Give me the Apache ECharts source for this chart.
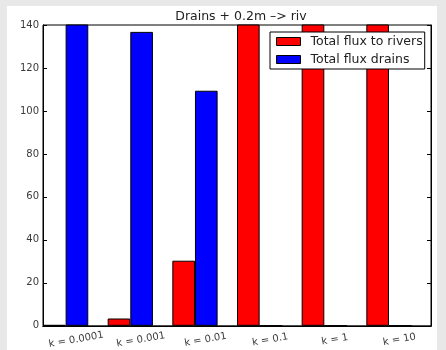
<!DOCTYPE html>
<html>
<head>
<meta charset="utf-8">
<script src="https://cdn.jsdelivr.net/npm/echarts@6/dist/echarts.min.js"></script>
<style>
  html, body { margin: 0; padding: 0; background: #e8e8e8; }
  #chart { width: 446px; height: 350px; }
</style>
</head>
<body>
<div id="chart"></div>
<script>
// Hydraulic conductivity cases
const categories = ['k = 0.0001', 'k = 0.001', 'k = 0.01', 'k = 0.1', 'k = 1', 'k = 10'];
// Total flux to rivers per case (last three run past the top of the axis)
const fluxRivers = [0.4, 3.4, 30.3, 158, 156, 160];
// Total flux to drains per case
const fluxDrains = [152, 136.8, 109.4, 0, 0, 0];
// Y axis range and step
const yMin = 0, yMax = 140, yStep = 20;

const font = 'DejaVu Sans, sans-serif';
const tickLabel = { fontFamily: font, fontSize: 10, color: '#3a3a3a' };

const chart = echarts.init(document.getElementById('chart'), null, { renderer: 'canvas' });
chart.setOption({
  animation: false,
  backgroundColor: '#e8e8e8',
  graphic: [{
    type: 'rect', z: -10, silent: true,
    shape: { x: 7, y: 6, width: 430, height: 344 },
    style: { fill: '#ffffff' }
  }],
  title: {
    text: 'Drains + 0.2m –> riv',
    left: 236, top: 5, textAlign: 'center',
    textStyle: { fontFamily: font, fontSize: 12.5, fontWeight: 'normal', color: '#222' }
  },
  legend: {
    data: ['Total flux to rivers', 'Total flux drains'],
    orient: 'vertical',
    left: 270, top: 32,
    padding: [3, 2, 3, 6],
    itemGap: 5,
    itemWidth: 24, itemHeight: 8,
    icon: 'rect',
    backgroundColor: '#fff',
    borderColor: '#000', borderWidth: 1,
    itemStyle: { borderColor: '#000', borderWidth: 1 },
    textStyle: { fontFamily: font, fontSize: 12.5, color: '#222', lineHeight: 13, padding: [0, 0, 0, 5] }
  },
  grid: {
    left: 43, right: 15, top: 25, bottom: 23,
    show: true, backgroundColor: '#fff', borderColor: '#000', borderWidth: 1
  },
  xAxis: [{
    type: 'category', data: categories, position: 'bottom',
    axisLine: { lineStyle: { color: '#000', width: 1 } },
    axisTick: { alignWithLabel: true, inside: true, length: 4, lineStyle: { color: '#000' } },
    axisLabel: Object.assign({ rotate: 10, margin: 9, align: 'center', verticalAlign: 'top', interval: 0 }, tickLabel),
    splitLine: { show: false }
  }, {
    type: 'category', data: categories, position: 'top',
    axisLine: { lineStyle: { color: '#000', width: 1 } },
    axisTick: { alignWithLabel: true, inside: true, length: 4, lineStyle: { color: '#000' } },
    axisLabel: { show: false },
    splitLine: { show: false }
  }],
  yAxis: [{
    type: 'value', min: yMin, max: yMax, interval: yStep, position: 'left',
    axisLine: { show: true, lineStyle: { color: '#000', width: 1 } },
    axisTick: { show: true, inside: true, length: 4, lineStyle: { color: '#000' } },
    axisLabel: Object.assign({ margin: 4 }, tickLabel),
    splitLine: { show: false }
  }, {
    type: 'value', min: yMin, max: yMax, interval: yStep, position: 'right',
    axisLine: { show: true, lineStyle: { color: '#000', width: 1 } },
    axisTick: { show: true, inside: true, length: 4, lineStyle: { color: '#000' } },
    axisLabel: { show: false },
    splitLine: { show: false }
  }],
  series: [{
    name: 'Total flux to rivers', type: 'bar', data: fluxRivers,
    barWidth: '35%', barGap: '0%', barCategoryGap: '0%',
    itemStyle: { color: '#ff0000', borderColor: '#000', borderWidth: 1 }
  }, {
    name: 'Total flux drains', type: 'bar', data: fluxDrains,
    barWidth: '35%', barGap: '0%',
    itemStyle: { color: '#0000ff', borderColor: '#000', borderWidth: 1 }
  }, {
    // empty slot that keeps each bar pair at the left of its band
    name: 'spacer', type: 'bar', data: categories.map(() => null),
    barWidth: '30%', barGap: '0%',
    itemStyle: { color: 'transparent' }
  }]
});
</script>
</body>
</html>
